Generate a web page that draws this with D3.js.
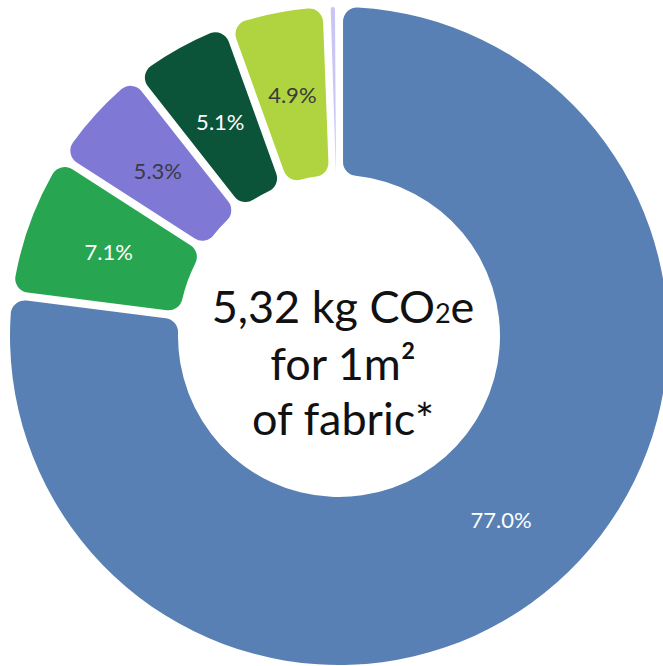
<!DOCTYPE html>
<html>
<head>
<meta charset="utf-8">
<script src="https://cdn.jsdelivr.net/npm/d3@7"></script>
<style>
  html, body { margin: 0; padding: 0; background: #fff; overflow: hidden; }
  svg { display: block; }
</style>
</head>
<body>
<svg id="chart" width="663" height="666"></svg>
<script>
// shares of the footprint, clockwise from 12 o'clock
const sliceValues = [77.0, 7.1, 5.3, 5.1, 4.9, 0.6];
const sliceLabels = ["77.0%", "7.1%", "5.3%", "5.1%", "4.9%", ""];
const sliceColors = ["#5880b5", "#28a550", "#7f79d5", "#0b5439", "#afd43f", "#c9c5f5"];
const labelColors = ["#ffffff", "#ffffff", "#3a3a48", "#ffffff", "#3a3a3a", "#3a3a3a"];

const centerLine1 = ["5,32 kg CO", "2", "e"];
const centerLine2 = "for 1m²";
const centerLine3 = "of fabric*";

const svg = d3.select("#chart");
const cx = 339, cy = 336;
const outerR = 329, innerR = 161;

const g = svg.append("g").attr("transform", `translate(${cx},${cy})`);

const pie = d3.pie().sort(null).value(d => d);
const arcs = pie(sliceValues);

const arc = d3.arc()
    .innerRadius(innerR)
    .outerRadius(outerR)
    .padAngle(0.022)
    .cornerRadius(14);

g.selectAll("path.slice")
    .data(arcs)
    .enter()
    .append("path")
    .attr("class", "slice")
    .attr("d", arc)
    .attr("fill", (d, i) => sliceColors[i]);

const labelArc = d3.arc().innerRadius(innerR).outerRadius(outerR);

g.selectAll("text.pct")
    .data(arcs)
    .enter()
    .append("text")
    .attr("class", "pct")
    .attr("transform", d => `translate(${labelArc.centroid(d)})`)
    .attr("text-anchor", "middle")
    .attr("dy", "0.36em")
    .attr("font-family", "Lato, 'Open Sans', sans-serif")
    .attr("font-size", 22)
    .attr("fill", (d, i) => labelColors[i])
    .text((d, i) => sliceLabels[i]);

// centre caption
const cap = g.append("text")
    .attr("text-anchor", "middle")
    .attr("font-family", "Lato, 'Open Sans', sans-serif")
    .attr("font-size", 45)
    .attr("fill", "#111");

const t1 = cap.append("tspan").attr("x", 4).attr("y", -13);
t1.append("tspan").text(centerLine1[0]);
t1.append("tspan").attr("font-size", 27).text(centerLine1[1]);
t1.append("tspan").text(centerLine1[2]);

cap.append("tspan").attr("x", 4).attr("y", 44).text(centerLine2);
cap.append("tspan").attr("x", 4).attr("y", 99).text(centerLine3);
</script>
</body>
</html>
